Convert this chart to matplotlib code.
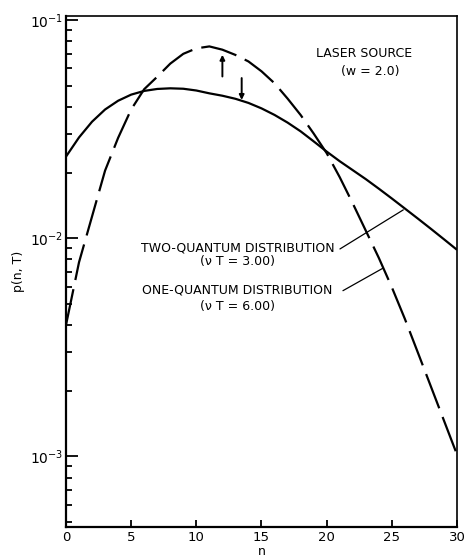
import numpy as np
import matplotlib
matplotlib.use('Agg')
import matplotlib.pyplot as plt
from matplotlib.ticker import LogLocator, NullFormatter

# photocount index n
n = list(range(0, 31))

# two-quantum distribution (nu T = 3.00), solid curve
p_two = [0.02366, 0.02897, 0.03420, 0.03890, 0.04266, 0.04550, 0.04732,
         0.04831, 0.04864, 0.04842, 0.04753, 0.04613, 0.04498, 0.04355,
         0.04169, 0.03936, 0.03673, 0.03388, 0.03090, 0.02780, 0.02495,
         0.02254, 0.02051, 0.01866, 0.01687, 0.01521, 0.01368, 0.01230,
         0.01104, 0.00989, 0.00885]

# one-quantum distribution (nu T = 6.00), dashed curve
p_one = [0.00400, 0.00776, 0.01259, 0.02042, 0.02884, 0.03890, 0.04819,
         0.05495, 0.06310, 0.06998, 0.07413, 0.07568, 0.07311, 0.06918,
         0.06457, 0.05821, 0.05129, 0.04365, 0.03673, 0.03020, 0.02455,
         0.01905, 0.01445, 0.01084, 0.00813, 0.00596, 0.00427, 0.00299,
         0.00209, 0.00146, 0.00102]

x_ticks = [0, 5, 10, 15, 20, 25, 30]

plt.rcParams['font.family'] = ['DejaVu Sans']

fig = plt.figure(figsize=(4.65, 5.60), dpi=100)
ax = fig.add_axes([0.1419, 0.0589, 0.8409, 0.9125])

ax.plot(n, p_two, color='black', lw=1.6, solid_capstyle='butt')
ax.plot(n, p_one, color='black', lw=1.6, dashes=(16.5, 4.2),
        dash_capstyle='butt')

ax.set_yscale('log')
ax.set_xlim(0, 30)
ax.set_ylim(4.75e-4, 0.1043)

ax.set_xticks(x_ticks)
ax.set_xticklabels([str(t) for t in x_ticks])
ax.yaxis.set_major_locator(LogLocator(base=10))
ax.yaxis.set_minor_locator(LogLocator(base=10, subs=np.arange(2, 10)))
ax.yaxis.set_minor_formatter(NullFormatter())

ax.tick_params(axis='y', which='major', direction='in', length=8.6,
               width=1.3, labelsize=10, pad=2, right=False)
ax.tick_params(axis='y', which='minor', direction='in', length=4.3,
               width=1.3, right=False)
ax.tick_params(axis='x', which='major', direction='in', length=4.8,
               width=1.3, labelsize=9.5, pad=3, top=False)

for side in ['left', 'bottom']:
    ax.spines[side].set_linewidth(1.6)
for side in ['top', 'right']:
    ax.spines[side].set_linewidth(1.2)

ax.set_xlabel('n', fontsize=9)
ax.xaxis.set_label_coords(0.5, -0.036)
ax.set_ylabel('p(n, T)', fontsize=9)
ax.yaxis.set_label_coords(-0.105, 0.5)

# source label
ax.text(0.762, 0.927, 'LASER SOURCE', transform=ax.transAxes,
        ha='center', va='center', fontsize=9)
ax.text(0.777, 0.891, '(w = 2.0)', transform=ax.transAxes,
        ha='center', va='center', fontsize=9)

# curve labels
ax.text(0.4386, 0.5454, 'TWO-QUANTUM DISTRIBUTION', transform=ax.transAxes,
        ha='center', va='center', fontsize=9)
ax.text(0.4386, 0.5192, '(\u03bd T = 3.00)', transform=ax.transAxes,
        ha='center', va='center', fontsize=9)
ax.text(0.4386, 0.4638, 'ONE-QUANTUM DISTRIBUTION', transform=ax.transAxes,
        ha='center', va='center', fontsize=9)
ax.text(0.4386, 0.4325, '(\u03bd T = 6.00)', transform=ax.transAxes,
        ha='center', va='center', fontsize=9)

# leader lines
ax.annotate('', xy=(25.88, 0.01349), xytext=(21.02, 0.00893),
            arrowprops=dict(arrowstyle='-', lw=0.9, color='black',
                            shrinkA=0, shrinkB=0))
ax.annotate('', xy=(24.30, 0.00728), xytext=(21.25, 0.00575),
            arrowprops=dict(arrowstyle='-', lw=0.9, color='black',
                            shrinkA=0, shrinkB=0))

# arrows near the peaks
ax.annotate('', xy=(12.0, 0.0693), xytext=(12.0, 0.0551),
            arrowprops=dict(arrowstyle='-|>', lw=1.4, color='black',
                            mutation_scale=7, shrinkA=0, shrinkB=0))
ax.annotate('', xy=(13.48, 0.0430), xytext=(13.48, 0.0542),
            arrowprops=dict(arrowstyle='-|>', lw=1.4, color='black',
                            mutation_scale=7, shrinkA=0, shrinkB=0))

fig.savefig('out.png', dpi=100)
